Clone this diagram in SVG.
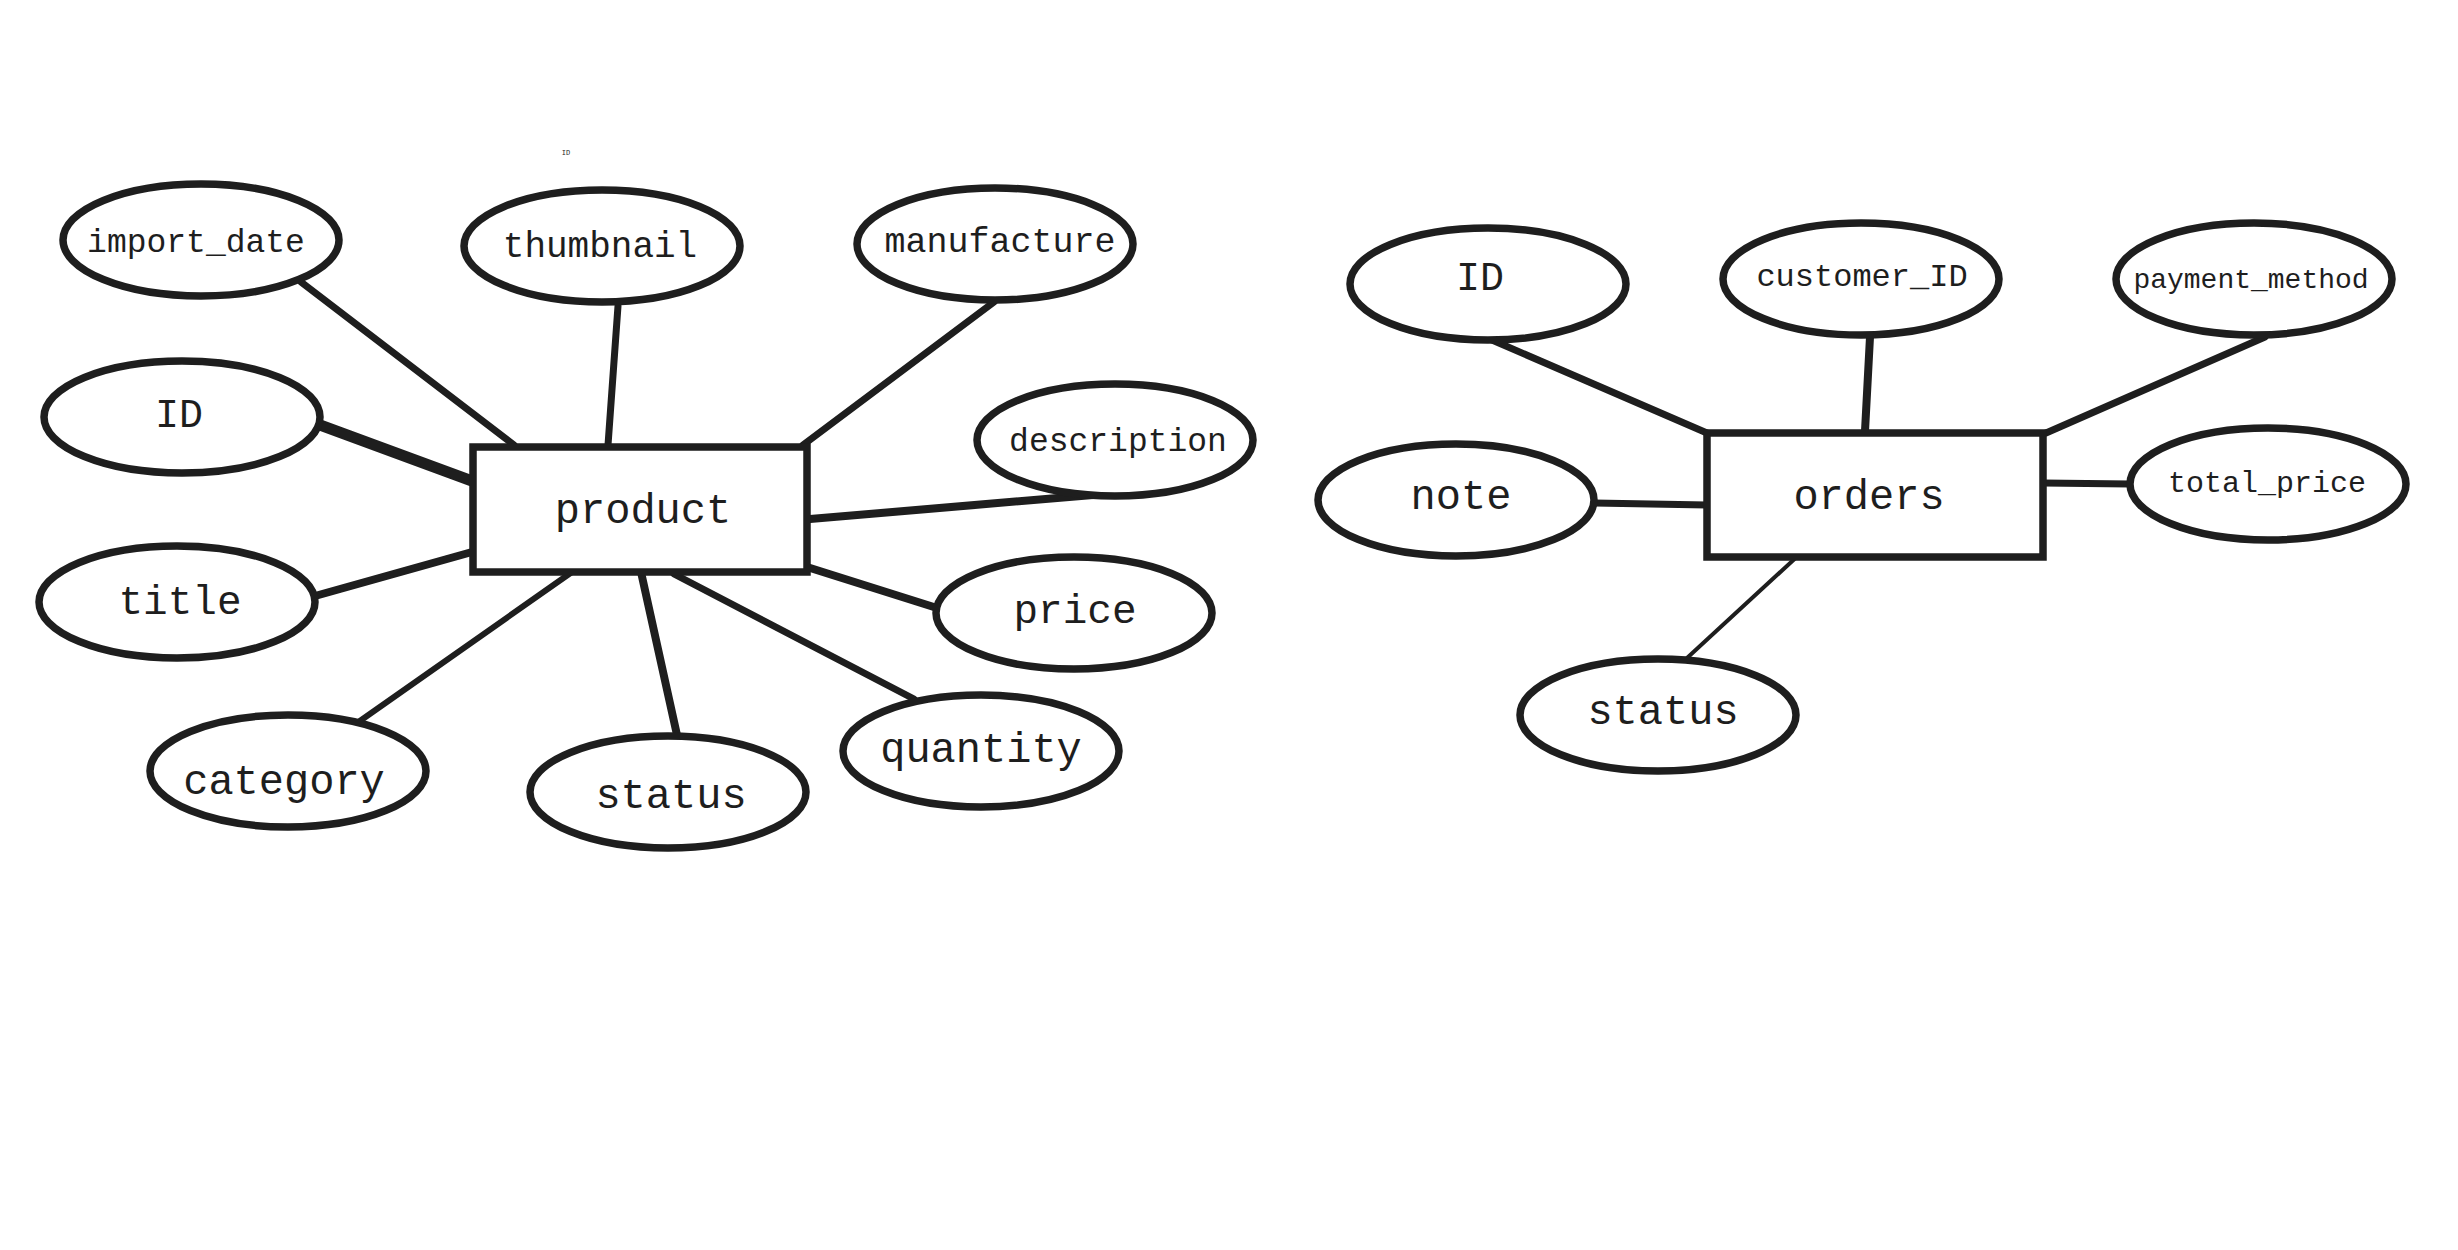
<svg xmlns="http://www.w3.org/2000/svg" width="2458" height="1250" viewBox="0 0 2458 1250">
<style>
.bg{fill:#ffffff}
.ent{fill:#ffffff;stroke:#1e1e1e;stroke-width:7.5}
.att{fill:#ffffff;stroke:#1e1e1e;stroke-width:7.5}
.ln{stroke:#1e1e1e;stroke-width:7;stroke-linecap:round;fill:none}
text{font-family:"Liberation Mono","DejaVu Sans Mono",monospace;fill:#1e1e1e;text-anchor:middle;dominant-baseline:central}
</style>
<rect class="bg" x="0" y="0" width="2458" height="1250"/>
<text x="566" y="153" style="font-size:7px">ID</text>
<g id="connectors">
<line class="ln" x1="301" y1="282" x2="514" y2="445"/>
<line class="ln" x1="618" y1="306" x2="608" y2="445"/>
<line class="ln" x1="994" y1="302" x2="803" y2="445"/>
<line class="ln" x1="320" y1="425" x2="472" y2="481" style="stroke-width:11"/>
<line class="ln" x1="810" y1="519" x2="1093" y2="495" style="stroke-width:8"/>
<line class="ln" x1="315" y1="596" x2="472" y2="552" style="stroke-width:8"/>
<line class="ln" x1="807" y1="567" x2="937" y2="608" style="stroke-width:8"/>
<line class="ln" x1="357" y1="723" x2="572" y2="572" style="stroke-width:6"/>
<line class="ln" x1="641" y1="572" x2="677" y2="735" style="stroke-width:8"/>
<line class="ln" x1="674" y1="574" x2="914" y2="699"/>
<line class="ln" x1="1492" y1="340" x2="1707" y2="433"/>
<line class="ln" x1="1870" y1="337" x2="1865" y2="431" style="stroke-width:8"/>
<line class="ln" x1="2265" y1="337" x2="2046" y2="433"/>
<line class="ln" x1="1594" y1="503" x2="1707" y2="505"/>
<line class="ln" x1="2043" y1="483" x2="2130" y2="484"/>
<line class="ln" x1="1801" y1="553" x2="1687" y2="658" style="stroke-width:4"/>
</g>
<g id="product"><rect class="ent" x="473" y="447" width="334" height="125"/><text x="643" y="512" style="font-size:42px">product</text></g>
<g id="p_import_date"><ellipse class="att" cx="201" cy="240" rx="138" ry="56"/><text x="196" y="243" style="font-size:33px">import_date</text></g>
<g id="p_thumbnail"><ellipse class="att" cx="602" cy="246" rx="138" ry="56"/><text x="600" y="247" style="font-size:36px">thumbnail</text></g>
<g id="p_manufacture"><ellipse class="att" cx="995" cy="244" rx="138" ry="56"/><text x="1000" y="243" style="font-size:35px">manufacture</text></g>
<g id="p_id"><ellipse class="att" cx="182" cy="417" rx="138" ry="56"/><text x="179" y="416" style="font-size:40px">ID</text></g>
<g id="p_description"><ellipse class="att" cx="1115" cy="440" rx="138" ry="56"/><text x="1118" y="442" style="font-size:33px">description</text></g>
<g id="p_title"><ellipse class="att" cx="177" cy="602" rx="138" ry="56"/><text x="180" y="603" style="font-size:41px">title</text></g>
<g id="p_price"><ellipse class="att" cx="1074" cy="613" rx="138" ry="56"/><text x="1075" y="612" style="font-size:41px">price</text></g>
<g id="p_category"><ellipse class="att" cx="288" cy="771" rx="138" ry="56"/><text x="284" y="783" style="font-size:42px">category</text></g>
<g id="p_status"><ellipse class="att" cx="668" cy="792" rx="138" ry="56"/><text x="671" y="797" style="font-size:42px">status</text></g>
<g id="p_quantity"><ellipse class="att" cx="981" cy="751" rx="138" ry="56"/><text x="981" y="751" style="font-size:42px">quantity</text></g>
<g id="orders"><rect class="ent" x="1707" y="433" width="336" height="124"/><text x="1869" y="498" style="font-size:42px">orders</text></g>
<g id="o_id"><ellipse class="att" cx="1488" cy="284" rx="138" ry="56"/><text x="1480" y="279" style="font-size:40px">ID</text></g>
<g id="o_customer_id"><ellipse class="att" cx="1861" cy="279" rx="138" ry="56"/><text x="1862" y="277" style="font-size:32px">customer_ID</text></g>
<g id="o_payment_method"><ellipse class="att" cx="2254" cy="279" rx="138" ry="56"/><text x="2251" y="280" style="font-size:28px">payment_method</text></g>
<g id="o_note"><ellipse class="att" cx="1456" cy="500" rx="138" ry="56"/><text x="1461" y="498" style="font-size:42px">note</text></g>
<g id="o_total_price"><ellipse class="att" cx="2268" cy="484" rx="138" ry="56"/><text x="2267" y="484" style="font-size:30px">total_price</text></g>
<g id="o_status"><ellipse class="att" cx="1658" cy="715" rx="138" ry="56"/><text x="1663" y="713" style="font-size:42px">status</text></g>
</svg>
